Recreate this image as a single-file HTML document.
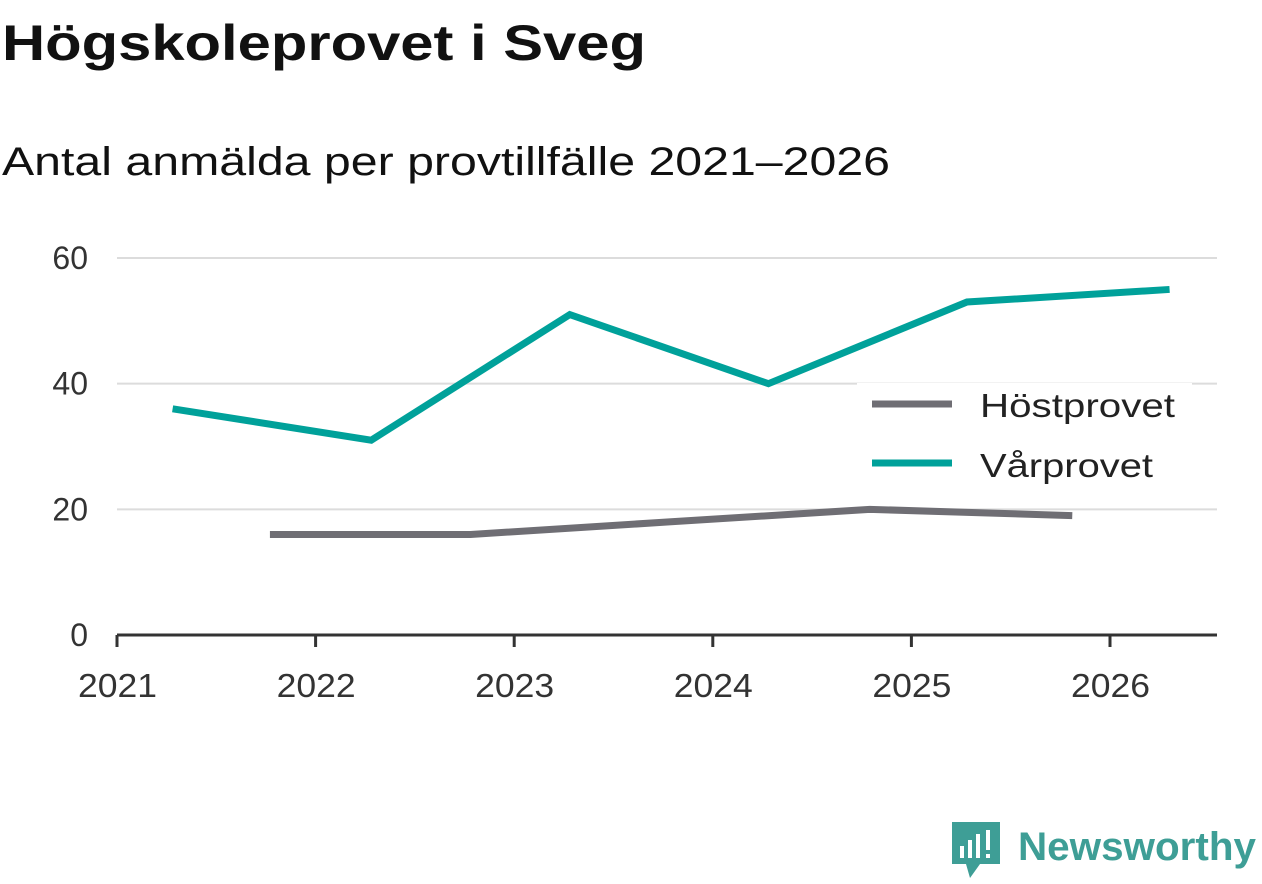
<!DOCTYPE html>
<html><head><meta charset="utf-8"><style>
body{margin:0;background:#fff;font-family:"Liberation Sans",sans-serif;}
svg text{font-family:"Liberation Sans",sans-serif;}
</style></head><body>
<svg width="1262" height="879">
<text x="2" y="60" font-size="50" font-weight="bold" fill="#111" textLength="644" lengthAdjust="spacingAndGlyphs">Högskoleprovet i Sveg</text>
<text x="2" y="175" font-size="40" fill="#111" textLength="888" lengthAdjust="spacingAndGlyphs">Antal anmälda per provtillfälle 2021–2026</text>
<g id="grid"></g><g id="axes"></g><g id="lines"></g>
<g>
<rect x="857" y="383" width="335" height="107" fill="#fff"/>
<line x1="872" y1="404" x2="952" y2="404" stroke="#6f6e74" stroke-width="7"/>
<text x="980" y="417" font-size="33" fill="#222" textLength="195" lengthAdjust="spacingAndGlyphs">Höstprovet</text>
<line x1="872" y1="463" x2="952" y2="463" stroke="#00a19a" stroke-width="7"/>
<text x="980" y="477" font-size="33" fill="#222" textLength="173" lengthAdjust="spacingAndGlyphs">Vårprovet</text>
</g>
<g>
<path d="M952 822 h48 v42 h-20 l-10 14 l-4 -14 h-14 z" fill="#3e9e96"/>
<rect x="960" y="846" width="4" height="12" fill="#fff"/><rect x="968" y="840" width="4" height="18" fill="#fff"/><rect x="976" y="834" width="4" height="24" fill="#fff"/><rect x="986" y="830" width="4" height="20" fill="#fff"/><rect x="986" y="854" width="4" height="4" fill="#fff"/>
<text x="1018" y="860" font-size="40" font-weight="bold" fill="#3e9e96" textLength="238" lengthAdjust="spacingAndGlyphs">Newsworthy</text>
</g>
</svg>
<script>
const yTicks=[0,20,40,60];
const xTicks=[2021,2022,2023,2024,2025,2026];
const varDates=[2021.28,2022.28,2023.28,2024.28,2025.28,2026.30];
const varValues=[36,31,51,40,53,55];
const hostDates=[2021.77,2022.78,2023.78,2024.79,2025.81];
const hostValues=[16,16,18,20,19];
const ns="http://www.w3.org/2000/svg";
const X=v=>117+(v-2021)*198.6;
const Y=v=>635-v*6.283;
function mk(tag,attrs,parent,txt){const e=document.createElementNS(ns,tag);for(const k in attrs)e.setAttribute(k,attrs[k]);if(txt!==undefined)e.textContent=txt;document.getElementById(parent).appendChild(e);return e;}
yTicks.forEach(t=>{
 if(t>0){const g=mk('line',{x1:117,x2:1217,y1:Y(t),y2:Y(t),stroke:'#dcdcdc','stroke-width':2},'grid');
 
 }
 const l=mk('text',{x:88,y:Y(t)+11,'font-size':32,fill:'#333','text-anchor':'end'},'axes',t);
 
 
});
const ax=mk('line',{x1:117,x2:1217,y1:635,y2:635,stroke:'#333','stroke-width':3},'axes');


xTicks.forEach(t=>{
 const tk=mk('line',{x1:X(t),x2:X(t),y1:635,y2:647,stroke:'#333','stroke-width':3},'axes');
 
 
 const l=mk('text',{x:X(t)-39,y:697,'font-size':33,fill:'#333',textLength:79,lengthAdjust:'spacingAndGlyphs'},'axes',t);
 
 
});
function line(d,v,c,name){
 const p=mk('polyline',{points:d.map((x,i)=>X(x)+','+Y(v[i])).join(' '),fill:'none',stroke:c,'stroke-width':7},'lines');
 
 
}
line(hostDates,hostValues,'#6f6e74','line-hostprovet');
line(varDates,varValues,'#00a19a','line-varprovet');
</script>
</body></html>
